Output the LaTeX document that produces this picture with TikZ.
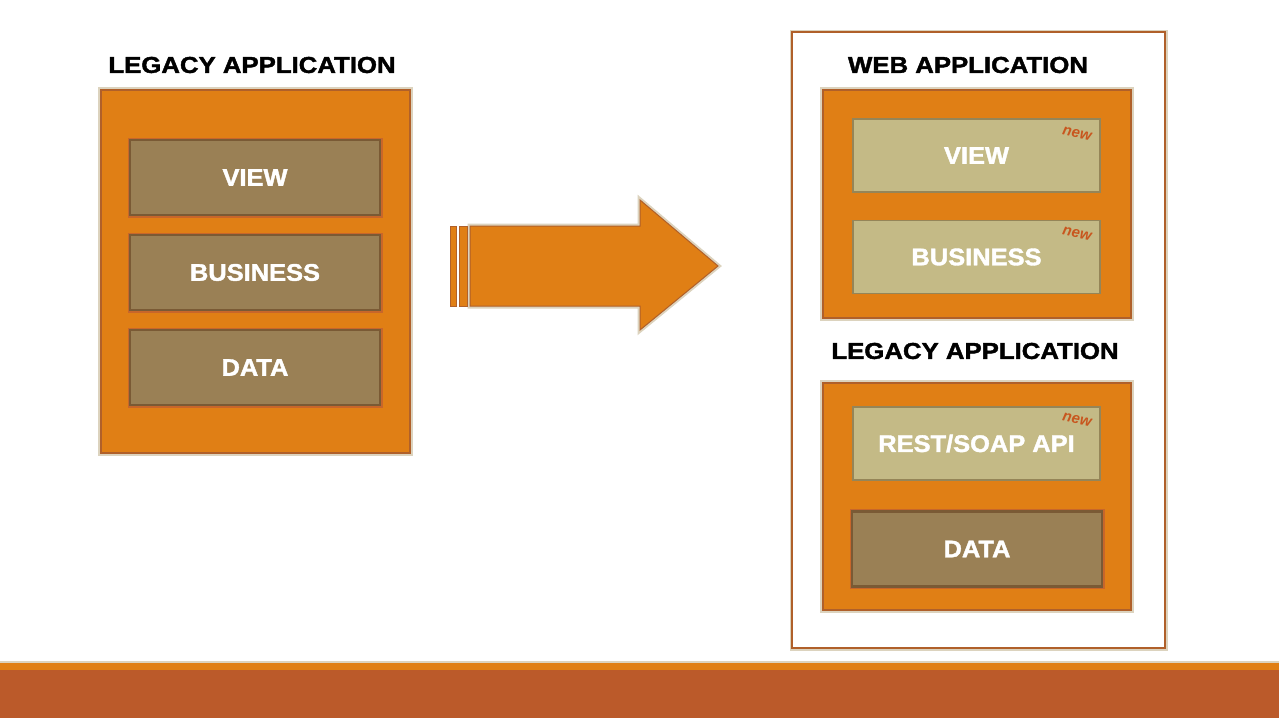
\documentclass[tikz,border=0pt]{standalone}
\usepackage{fontspec}
\setmainfont{Liberation Sans}[BoldFeatures={FakeBold=1.6}]
\usepackage{graphicx}
\definecolor{boxorange}{HTML}{E07F15}
\definecolor{boxedge}{HTML}{B0602A}
\definecolor{darkfill}{HTML}{9A8055}
\definecolor{darkedge}{HTML}{7A5A35}
\definecolor{lightfill}{HTML}{C4BA86}
\definecolor{lightedge}{HTML}{958558}
\definecolor{glowc}{HTML}{DCD3BE}
\definecolor{redglow}{HTML}{C8662A}
\definecolor{newc}{HTML}{C8561E}
\definecolor{rust}{HTML}{BB5A2A}
\begin{document}
\begin{tikzpicture}[x=1pt,y=-1pt]
    
    \tikzset{title/.style = {font=\fontsize{23}{23}\selectfont\bfseries, text=black}}
    \tikzset{appbox/.style = {shape=rectangle, draw=boxedge, fill=boxorange, line width=1.2pt,
        preaction={draw=glowc, line width=6pt}}}
    \tikzset{oldlayer/.style = {shape=rectangle, draw=darkedge, fill=darkfill, line width=2.5pt,
        preaction={draw=redglow, line width=5pt}, minimum width=250, minimum height=75,
        text=white, font=\fontsize{24}{24}\selectfont\bfseries}}
    \tikzset{newlayer/.style = {shape=rectangle, draw=lightedge, fill=lightfill, line width=1.5pt,
        minimum width=247, minimum height=73,
        text=white, font=\fontsize{24}{24}\selectfont\bfseries}}
    \tikzset{newtag/.style = {text=newc, rotate=-12, font=\fontsize{15}{15}\selectfont\bfseries\itshape}}
    \useasboundingbox (0,0) rectangle (1279,720);
    \fill[white] (0,0) rectangle (1279,720);
    %bottom band
    \fill[glowc] (0,661) rectangle (1279,663);
    \fill[boxorange] (0,663) rectangle (1279,670);
    \fill[rust] (0,670) rectangle (1279,718);
    %left application
    \node[title] (LT) at (252,65) {\scalebox{1.12}[1]{LEGACY APPLICATION}};
    \node[appbox, minimum width=309, minimum height=363] (LA) at (255.5,271.5) {};
    \node[oldlayer] (LV) at (255,177.5) {\scalebox{1.06}[1]{VIEW}};
    \node[oldlayer] (LB) at (255,272.5) {\scalebox{1.06}[1]{BUSINESS}};
    \node[oldlayer] (LD) at (255,367.5) {\scalebox{1.06}[1]{DATA}};
    %arrow
    \filldraw[fill=boxorange, draw=boxedge, line width=1pt, preaction={draw=glowc, line width=5pt}]
        (470,226) -- (640,226) -- (640,200) -- (718,266) -- (640,330) -- (640,306) -- (470,306) -- cycle;
    \filldraw[fill=boxorange, draw=boxedge, line width=1pt] (450,226) rectangle (456,306);
    \filldraw[fill=boxorange, draw=boxedge, line width=1pt] (459,226) rectangle (467,306);
    %right frame
    \node[shape=rectangle, draw=boxedge, fill=white, line width=1.2pt, preaction={draw=glowc, line width=5pt},
        minimum width=373, minimum height=616] (RF) at (978.5,340) {};
    \node[title] (WT) at (968,65) {\scalebox{1.12}[1]{WEB APPLICATION}};
    \node[appbox, minimum width=308, minimum height=228] (WA) at (977,204) {};
    \node[newlayer] (WV) at (976.5,155.5) {\scalebox{1.06}[1]{VIEW}};
    \node[newlayer] (WB) at (976.5,257) {\scalebox{1.06}[1]{BUSINESS}};
    \node[newtag] (N1) at (1077,134) {new};
    \node[newtag] (N2) at (1077,234) {new};
    \node[title] (RT) at (975,351) {\scalebox{1.12}[1]{LEGACY APPLICATION}};
    \node[appbox, minimum width=308, minimum height=227] (RA) at (977,496.5) {};
    \node[newlayer] (RR) at (976.5,443.5) {\scalebox{1.06}[1]{REST/SOAP API}};
    \node[newtag] (N3) at (1077,420) {new};
    \node[oldlayer] (RD) at (977,549) {\scalebox{1.06}[1]{DATA}};
    \end{tikzpicture}
\end{document}
